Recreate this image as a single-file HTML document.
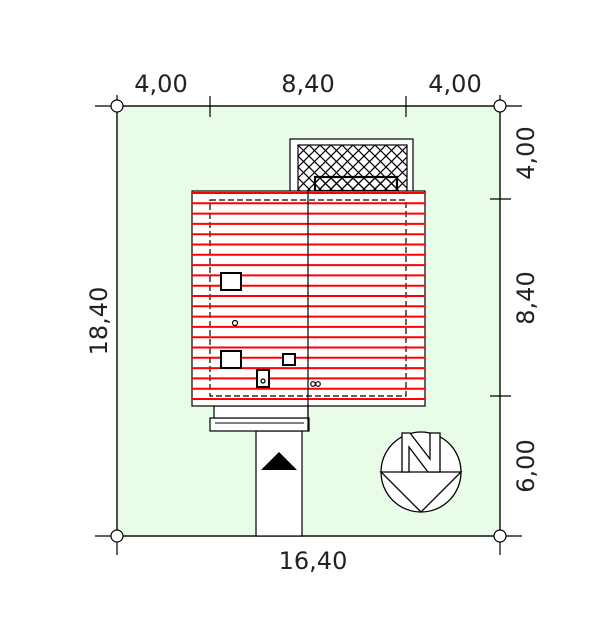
<!DOCTYPE html>
<html><head><meta charset="utf-8"><style>body{margin:0;background:#fff}svg{display:block}</style></head>
<body>
<svg width="600" height="642" viewBox="0 0 600 642" xmlns="http://www.w3.org/2000/svg">
<defs>
<pattern id="hx" width="11" height="11" patternUnits="userSpaceOnUse" x="298" y="145">
<path d="M0 0L11 11M11 0L0 11" stroke="#000" stroke-width="1.2"/>
</pattern>
</defs>
<rect x="117" y="106" width="383" height="430" fill="#e8fce8" stroke="#000" stroke-width="1.2"/>
<g stroke="#000" stroke-width="1.2" fill="none">
<line x1="95" y1="106" x2="522" y2="106"/>
<line x1="95" y1="536" x2="522" y2="536"/>
<line x1="117" y1="95" x2="117" y2="555"/>
<line x1="500" y1="95" x2="500" y2="555"/>
<line x1="210" y1="96" x2="210" y2="117"/>
<line x1="406" y1="96" x2="406" y2="117"/>
<line x1="490" y1="199" x2="511" y2="199"/>
<line x1="490" y1="396" x2="511" y2="396"/>
</g>
<g fill="#fff" stroke="#000" stroke-width="1.2">
<circle cx="117" cy="106" r="6"/><circle cx="500" cy="106" r="6"/>
<circle cx="117" cy="536" r="6"/><circle cx="500" cy="536" r="6"/>
</g>
<g font-family="DejaVu Sans, sans-serif" font-size="24" fill="#222">
<text x="161" y="92" text-anchor="middle">4,00</text>
<text x="308" y="92" text-anchor="middle">8,40</text>
<text x="455" y="92" text-anchor="middle">4,00</text>
<text x="313" y="569" text-anchor="middle">16,40</text>
<text transform="translate(107,321) rotate(-90)" text-anchor="middle">18,40</text>
<text transform="translate(534,153) rotate(-90)" text-anchor="middle">4,00</text>
<text transform="translate(534,298) rotate(-90)" text-anchor="middle">8,40</text>
<text transform="translate(534,466) rotate(-90)" text-anchor="middle">6,00</text>
</g>
<rect x="290" y="139" width="123" height="53" fill="#fff" stroke="#000" stroke-width="1.2"/>
<rect x="298" y="145" width="109" height="47" fill="url(#hx)" stroke="#000" stroke-width="1.2"/>
<rect x="315" y="177" width="82" height="14" fill="url(#hx)" stroke="#000" stroke-width="2.2"/>
<rect x="256" y="431" width="46" height="105" fill="#fff" stroke="#000" stroke-width="1.2"/>
<polygon points="261,470 297,470 279,452" fill="#000"/>
<rect x="210" y="418" width="99" height="13" fill="#fff" stroke="#000" stroke-width="1.2"/>
<line x1="215" y1="423" x2="304" y2="423" stroke="#000"/>
<rect x="214" y="406" width="94" height="12" fill="#fff" stroke="#000" stroke-width="1.2"/>
<rect x="192" y="191" width="233" height="215" fill="#fff" stroke="#000" stroke-width="1.2"/>
<rect x="210" y="200" width="196" height="196" fill="none" stroke="#000" stroke-width="1.2" stroke-dasharray="6,3"/>
<g stroke="#f00" stroke-width="2">
<line x1="192" y1="193" x2="425" y2="193"/><line x1="192" y1="203.3" x2="425" y2="203.3"/>
<line x1="192" y1="213.6" x2="425" y2="213.6"/><line x1="192" y1="223.9" x2="425" y2="223.9"/>
<line x1="192" y1="234.2" x2="425" y2="234.2"/><line x1="192" y1="244.5" x2="425" y2="244.5"/>
<line x1="192" y1="254.8" x2="425" y2="254.8"/><line x1="192" y1="265.1" x2="425" y2="265.1"/>
<line x1="192" y1="275.4" x2="425" y2="275.4"/><line x1="192" y1="285.7" x2="425" y2="285.7"/>
<line x1="192" y1="296" x2="425" y2="296"/><line x1="192" y1="306.3" x2="425" y2="306.3"/>
<line x1="192" y1="316.6" x2="425" y2="316.6"/><line x1="192" y1="326.9" x2="425" y2="326.9"/>
<line x1="192" y1="337.2" x2="425" y2="337.2"/><line x1="192" y1="347.5" x2="425" y2="347.5"/>
<line x1="192" y1="357.8" x2="425" y2="357.8"/><line x1="192" y1="368.1" x2="425" y2="368.1"/>
<line x1="192" y1="378.4" x2="425" y2="378.4"/><line x1="192" y1="388.7" x2="425" y2="388.7"/>
<line x1="192" y1="399" x2="425" y2="399"/>
</g>
<line x1="308" y1="191" x2="308" y2="431" stroke="#000" stroke-width="1.2"/>
<g fill="#fff" stroke="#000" stroke-width="2">
<rect x="221" y="273" width="20" height="17"/>
<rect x="221" y="351" width="20" height="17"/>
<rect x="283" y="354" width="12" height="11"/>
<rect x="257" y="370" width="12" height="17"/>
</g>
<g fill="none" stroke="#000" stroke-width="1.2">
<circle cx="263" cy="381" r="2"/><circle cx="235" cy="323" r="2.5"/>
<circle cx="313" cy="384" r="2.3"/><circle cx="318" cy="384" r="2.3"/>
</g>
<circle cx="421" cy="472" r="40" fill="#fff" stroke="#000" stroke-width="1.3"/>
<path d="M381 472L421 512L461 472Z" fill="#fff" stroke="#000" stroke-width="1.3"/>
<path d="M409 472L409 447L428 472L440 472L440 433L430 433L430 459L410 433L402 433L402 472Z" fill="#fff" stroke="#000" stroke-width="1.3"/>
</svg>
</body></html>
